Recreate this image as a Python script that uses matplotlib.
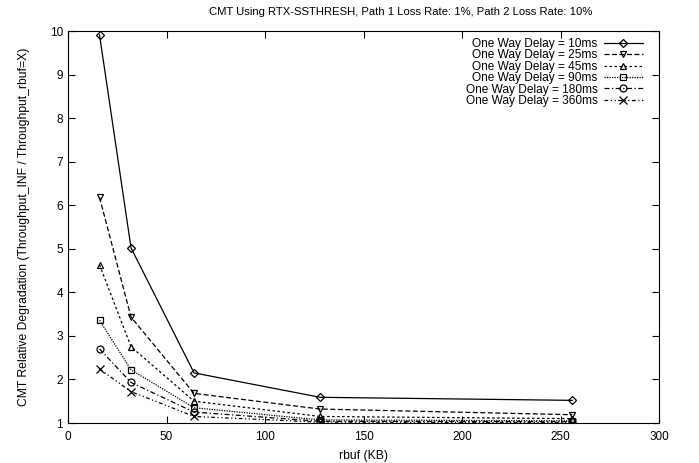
import matplotlib
matplotlib.use("Agg")
import matplotlib.pyplot as plt

plt.rcParams['font.family'] = ['Liberation Sans', 'DejaVu Sans']

rbuf = [16, 32, 64, 128, 256]
d10 = [9.91, 5.02, 2.15, 1.59, 1.52]
d25 = [6.18, 3.43, 1.68, 1.32, 1.19]
d45 = [4.63, 2.75, 1.50, 1.15, 1.10]
d90 = [3.36, 2.22, 1.35, 1.07, 1.05]
d180 = [2.70, 1.93, 1.25, 1.04, 1.03]
d360 = [2.24, 1.72, 1.15, 1.02, 1.01]

labels = ["One Way Delay = 10ms", "One Way Delay = 25ms", "One Way Delay = 45ms",
          "One Way Delay = 90ms", "One Way Delay = 180ms", "One Way Delay = 360ms"]
series = [d10, d25, d45, d90, d180, d360]
markers = ['D', 'v', '^', 's', 'o', 'x']
styles = ['-', (0, (4, 2)), (0, (2, 2)), (0, (1, 1)), (0, (4, 2, 1, 2)), (0, (3, 2, 1, 2, 1, 2))]
msizes = [4, 5, 5, 5, 5, 6]

fig = plt.figure(figsize=(6.99, 4.63), dpi=100)
ax = fig.add_axes([68/699, 40/463, (659-68)/699, (423-31)/463])

for y, lab, m, ls, ms in zip(series, labels, markers, styles, msizes):
    ax.plot(rbuf, y, color='black', linestyle=ls, linewidth=0.9, marker=m,
            markersize=ms, markerfacecolor='none', markeredgewidth=0.9, label=lab)

ax.set_xlim(0, 300)
ax.set_ylim(1, 10)
ax.set_xticks(range(0, 301, 50))
ax.set_yticks(range(1, 11))
ax.tick_params(direction='in', top=True, right=True, labelsize=8.5, length=5)
ax.tick_params(axis='x', pad=6)
ax.set_xlabel("rbuf (KB)", fontsize=8.75, labelpad=5)
ax.set_ylabel("CMT Relative Degradation (Throughput_INF / Throughput_rbuf=X)", fontsize=8.75, labelpad=14)
fig.text(401/699, 1 - 12/463, "CMT Using RTX-SSTHRESH, Path 1 Loss Rate: 1%, Path 2 Loss Rate: 10%",
         fontsize=8.1, ha='center', va='center')

ax.legend(loc='upper right', bbox_to_anchor=(643/699, 1 - 38/463), bbox_transform=fig.transFigure,
          frameon=False, markerfirst=False, alignment='right',
          fontsize=8.6, handlelength=3.3, labelspacing=-0.05, borderaxespad=0, borderpad=0,
          handletextpad=0.5)

fig.savefig("out.png", dpi=100)
